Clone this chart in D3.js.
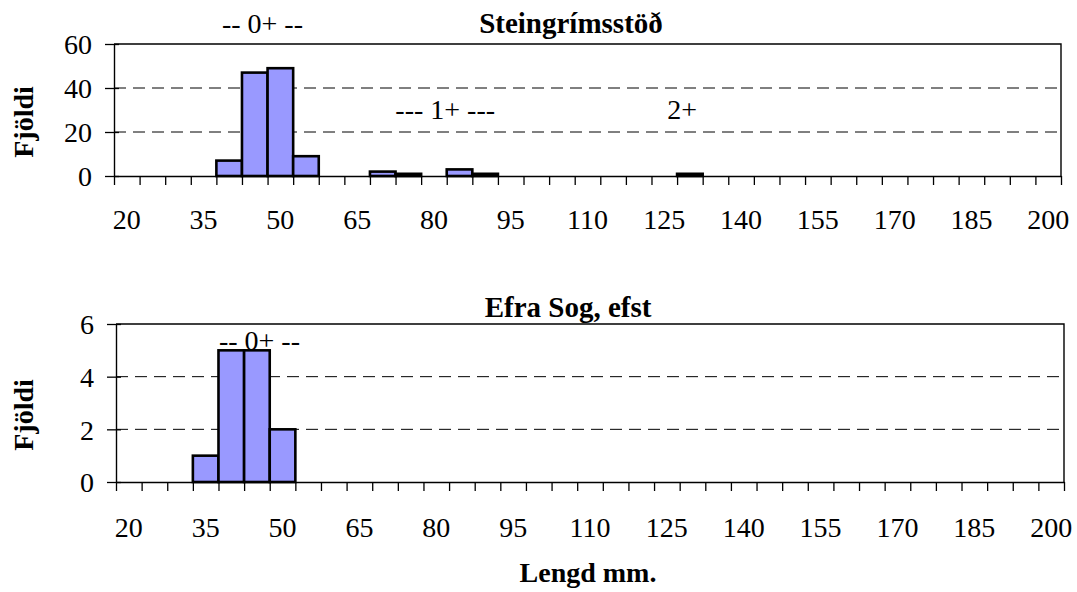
<!DOCTYPE html>
<html>
<head>
<meta charset="utf-8">
<script src="https://cdn.jsdelivr.net/npm/d3@7"></script>
<style>
  html, body { margin: 0; padding: 0; background: #fff; }
</style>
</head>
<body>
<svg id="chart" width="1077" height="592"></svg>
<script>
// Length classes (mm)
const lengthBins = [20, 25, 30, 35, 40, 45, 50, 55, 60, 65, 70, 75, 80, 85, 90, 95, 100, 105, 110,
  115, 120, 125, 130, 135, 140, 145, 150, 155, 160, 165, 170, 175, 180, 185, 190, 195, 200];

// Counts per length class
const countsSteingrims = [0, 0, 0, 0, 7, 47, 49, 9, 0, 0, 2, 1, 0, 3, 1, 0, 0, 0, 0,
  0, 0, 0, 1, 0, 0, 0, 0, 0, 0, 0, 0, 0, 0, 0, 0, 0, 0];
const countsEfraSog = [0, 0, 0, 1, 5, 5, 2, 0, 0, 0, 0, 0, 0, 0, 0, 0, 0, 0, 0,
  0, 0, 0, 0, 0, 0, 0, 0, 0, 0, 0, 0, 0, 0, 0, 0, 0, 0];

// Labelled length classes on the category axis
const xTickLabels = ["20", "35", "50", "65", "80", "95", "110", "125", "140", "155", "170", "185", "200"];

// Value axis ticks
const yTicksTop = [0, 20, 40, 60];
const yTicksBottom = [0, 2, 4, 6];

const panelTitles = ["Steingrímsstöð", "Efra Sog, efst"];

// Age-group annotations: [text, length (mm) the text is centred on, count level of its baseline]
const notesTop = [["-- 0+ --", 49, 65], ["--- 1+ ---", 84.7, 26], ["2+", 131, 26]];
const notesBottom = [["-- 0+ --", 48, 5]];

const svg = d3.select("#chart");
const FONT = 28;
const SERIF = '"Liberation Serif", "Times New Roman", "Tinos", serif';

function drawPanel(cfg) {
  const { left, right, top, bottom, counts, yMax, yTicks, title, notes, titleX, titleY, labelY } = cfg;
  const g = svg.append("g");

  const x = d3.scaleBand().domain(lengthBins).range([left, right]).padding(0);
  const xEdge = d3.scaleLinear().domain([0, lengthBins.length]).range([left, right]);
  const y = d3.scaleLinear().domain([0, yMax]).range([bottom, top]);

  // plot frame (top and right)
  g.append("path")
    .attr("d", `M${left},${top}H${right}V${bottom}`)
    .attr("fill", "none").attr("stroke", "#000").attr("stroke-width", 1.4);

  // dashed gridlines
  g.selectAll("line.grid")
    .data(yTicks.filter(v => v > 0 && v < yMax))
    .join("line")
    .attr("class", "grid")
    .attr("x1", left).attr("x2", right)
    .attr("y1", d => y(d)).attr("y2", d => y(d))
    .attr("stroke", "#000").attr("stroke-width", 1)
    .attr("stroke-dasharray", "12,7");

  // bars
  g.selectAll("rect.bar")
    .data(lengthBins.map((b, i) => ({ b, v: counts[i] })).filter(d => d.v > 0))
    .join("rect")
    .attr("class", "bar")
    .attr("x", d => x(d.b))
    .attr("width", x.bandwidth())
    .attr("y", d => y(d.v))
    .attr("height", d => y(0) - y(d.v))
    .attr("fill", "#9999FF")
    .attr("stroke", "#000")
    .attr("stroke-width", 2.6);

  // category axis: ticks on class boundaries
  const xAxis = g.append("g")
    .attr("transform", `translate(0,${bottom})`)
    .call(d3.axisBottom(xEdge)
      .tickValues(d3.range(lengthBins.length + 1))
      .tickFormat("")
      .tickSizeInner(9).tickSizeOuter(0));
  xAxis.select(".domain").attr("stroke", "#000").attr("stroke-width", 1.4);
  xAxis.selectAll(".tick line").attr("stroke", "#000").attr("stroke-width", 1.3);

  // category labels centred on their class
  g.selectAll("text.xl")
    .data(xTickLabels)
    .join("text")
    .attr("class", "xl")
    .attr("x", d => x(+d) + x.bandwidth() / 2)
    .attr("y", labelY)
    .attr("text-anchor", "middle")
    .style("font-family", SERIF)
    .style("font-size", FONT + "px")
    .text(d => d);

  // value axis with crossing ticks
  const yAxis = g.append("g")
    .attr("transform", `translate(${left},0)`)
    .call(d3.axisLeft(y).tickValues(yTicks).tickFormat(d3.format("d"))
      .tickSizeInner(9).tickSizeOuter(0));
  yAxis.attr("font-family", SERIF).attr("font-size", FONT);
  yAxis.select(".domain").attr("stroke", "#000").attr("stroke-width", 1.4);
  yAxis.selectAll(".tick line").attr("x1", 5).attr("x2", -9).attr("stroke", "#000").attr("stroke-width", 1.3);
  yAxis.selectAll(".tick text")
    .attr("x", -22)
    .attr("dy", "0.35em")
    .attr("fill", "#000")
    .style("font-family", SERIF)
    .style("font-size", FONT + "px");

  // axis title
  g.append("text")
    .attr("transform", `translate(33,${(top + bottom) / 2 + 12}) rotate(-90)`)
    .attr("text-anchor", "middle")
    .style("font-family", SERIF)
    .style("font-size", FONT + "px")
    .style("font-weight", "bold")
    .text("Fjöldi");

  // panel title
  g.append("text")
    .attr("x", titleX).attr("y", titleY)
    .attr("text-anchor", "middle")
    .style("font-family", SERIF)
    .style("font-size", "29px")
    .style("font-weight", "bold")
    .text(title);

  // age-group annotations
  g.selectAll("text.note")
    .data(notes)
    .join("text")
    .attr("class", "note")
    .attr("x", d => x(lengthBins[0]) + (d[1] - lengthBins[0]) / 5 * x.bandwidth())
    .attr("y", d => y(d[2]))
    .attr("text-anchor", "middle")
    .style("font-family", SERIF)
    .style("font-size", FONT + "px")
    .text(d => d[0]);
}

drawPanel({
  left: 114, right: 1061, top: 44, bottom: 176,
  counts: countsSteingrims, yMax: 60, yTicks: yTicksTop,
  title: panelTitles[0], notes: notesTop, titleX: 571, titleY: 33, labelY: 229
});

drawPanel({
  left: 116, right: 1064, top: 324, bottom: 482,
  counts: countsEfraSog, yMax: 6, yTicks: yTicksBottom,
  title: panelTitles[1], notes: notesBottom, titleX: 568, titleY: 317, labelY: 537
});

// shared length axis title
svg.append("text")
  .attr("x", 588).attr("y", 582)
  .attr("text-anchor", "middle")
  .style("font-family", SERIF)
  .style("font-size", FONT + "px")
  .style("font-weight", "bold")
  .text("Lengd mm.");
</script>
</body>
</html>
